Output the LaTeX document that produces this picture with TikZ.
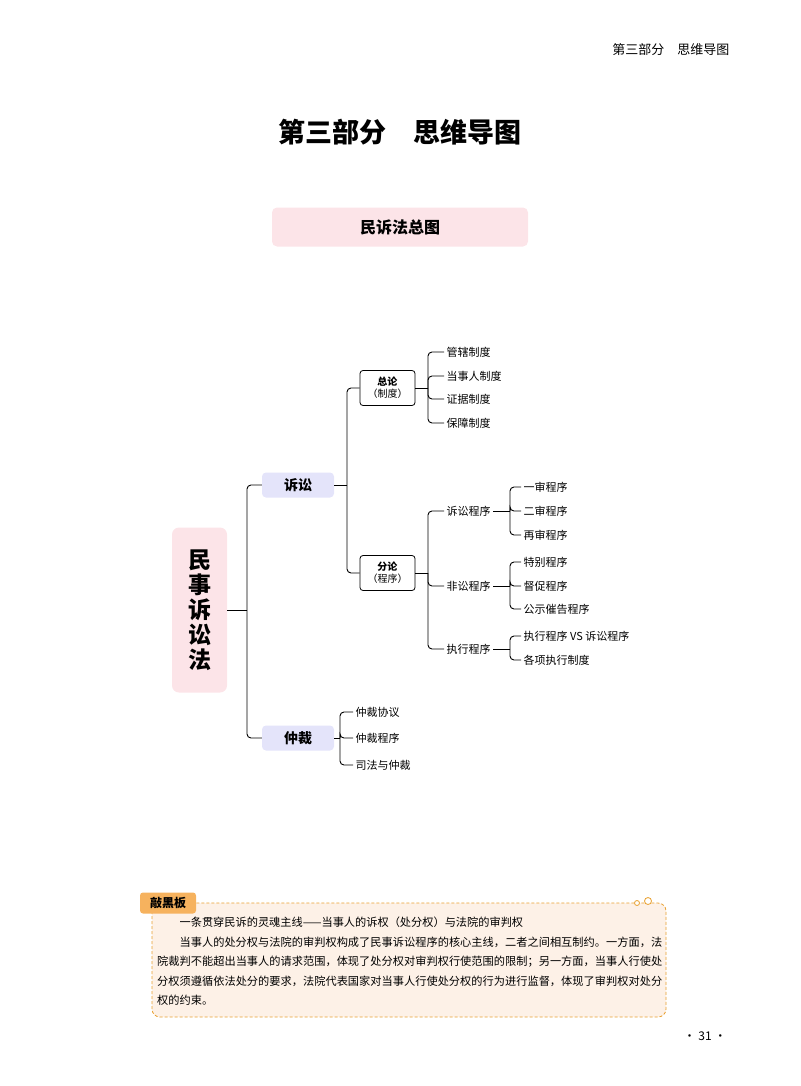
\documentclass[tikz,border=0pt]{standalone}
\usepackage{fontspec}
\setmainfont{Noto Sans CJK SC}
\XeTeXlinebreaklocale "zh"
\XeTeXlinebreakskip=0pt plus 1pt
\usetikzlibrary{positioning}
\definecolor{rootpink}{HTML}{FCE4E8}
\definecolor{lav}{HTML}{E4E4FA}
\definecolor{peach}{HTML}{FDF1E7}
\definecolor{tagorange}{HTML}{F6B25E}
\definecolor{dashorange}{HTML}{E8A030}
\tikzset{
  leaf/.style={anchor=west, inner sep=2.5pt, font=\fontsize{11}{13}\selectfont},
  topic/.style={rounded corners=4pt, fill=lav, minimum width=72, minimum height=25, font=\fontsize{14}{16}\selectfont\bfseries},
  part/.style={rounded corners=3pt, draw, line width=0.8pt, minimum width=55, minimum height=35, align=center, inner sep=1pt, font=\fontsize{10}{12}\selectfont},
  branch/.style={draw, line width=0.9pt, rounded corners=4pt},
  stem/.style={draw, line width=0.9pt},
}
\begin{document}
\begin{tikzpicture}[x=1pt,y=-1pt]
\useasboundingbox (0,0) rectangle (800,1086);

% header and title
\node[anchor=east, font=\fontsize{13}{15}\selectfont] (head) at (733,50) {第三部分\quad 思维导图};
\node[font=\fontsize{27}{30}\selectfont\bfseries] (title) at (400,132) {第三部分\quad 思维导图};
\node[fill=rootpink, rounded corners=5pt, minimum width=256, minimum height=39, font=\fontsize{16}{18}\selectfont\bfseries] (chart) at (400,227) {民诉法总图};

% root and main topics
\node[fill=rootpink, rounded corners=7pt, minimum width=55, minimum height=165, align=center, font=\fontsize{23}{25}\selectfont\bfseries] (root) at (199.5,610) {民\\事\\诉\\讼\\法};
\node[topic] (suit) at (298,485) {诉讼};
\node[topic] (arb) at (298,738) {仲裁};

\node[part] (gen) at (387.5,388) {\textbf{总论}\\（制度）};
\node[part] (spec) at (387.5,573) {\textbf{分论}\\（程序）};

% leaves of 总论
\node[leaf] (g1) at (444,352) {管辖制度};
\node[leaf] (g2) at (444,376) {当事人制度};
\node[leaf] (g3) at (444,399) {证据制度};
\node[leaf] (g4) at (444,423) {保障制度};

% 分论
\node[leaf] (p1) at (444,511) {诉讼程序};
\node[leaf] (p2) at (444,586) {非讼程序};
\node[leaf] (p3) at (444,649) {执行程序};

\node[leaf] (p11) at (521,487) {一审程序};
\node[leaf] (p12) at (521,511) {二审程序};
\node[leaf] (p13) at (521,535) {再审程序};
\node[leaf] (p21) at (521,562) {特别程序};
\node[leaf] (p22) at (521,586) {督促程序};
\node[leaf] (p23) at (521,609) {公示催告程序};
\node[leaf] (p31) at (521,636) {执行程序 VS 诉讼程序};
\node[leaf] (p32) at (521,660) {各项执行制度};

% 仲裁
\node[leaf] (a1) at (353,712) {仲裁协议};
\node[leaf] (a2) at (353,738) {仲裁程序};
\node[leaf] (a3) at (353,765) {司法与仲裁};

% branches
\draw[stem] (root.east) -- (247,610);
\foreach \c in {suit,arb} \draw[branch] (247,610) |- (\c.west);
\draw[stem] (suit.east) -- (347,485);
\foreach \c in {gen,spec} \draw[branch] (347,485) |- (\c.west);
\draw[stem] (gen.east) -- (428,388);
\foreach \c in {g1,g2,g3,g4} \draw[branch] (428,388) |- (\c.west);
\draw[stem] (spec.east) -- (428,573);
\foreach \c in {p1,p2,p3} \draw[branch] (428,573) |- (\c.west);
\draw[stem] (p1.east) -- (510,511);
\foreach \c in {p11,p12,p13} \draw[branch] (510,511) |- (\c.west);
\draw[stem] (p2.east) -- (510,586);
\foreach \c in {p21,p22,p23} \draw[branch] (510,586) |- (\c.west);
\draw[stem] (p3.east) -- (510,649);
\foreach \c in {p31,p32} \draw[branch] (510,649) |- (\c.west);
\draw[stem] (arb.east) -- (340,738);
\foreach \c in {a1,a2,a3} \draw[branch] (340,738) |- (\c.west);

% note box
\draw[dashorange, thick, dash pattern=on 3pt off 2pt, fill=peach, rounded corners=8pt] (152,903) rectangle (666,1017);
\draw[dashorange, thick, fill=white] (637,903) circle (2.5) (648,901) circle (3.5);
\node[fill=tagorange, rounded corners=3pt, minimum width=56, minimum height=21, font=\fontsize{12}{14}\selectfont\bfseries] (tag) at (168,903) {敲黑板};
\node[anchor=north west, text width=505, inner sep=0pt, align=justify, font=\fontsize{11.2}{19.5}\selectfont] (note) at (157,917)
{\parindent=22.4pt\indent 一条贯穿民诉的灵魂主线——当事人的诉权（处分权）与法院的审判权\par
\indent 当事人的处分权与法院的审判权构成了民事诉讼程序的核心主线，二者之间相互制约。一方面，法院裁判不能超出当事人的请求范围，体现了处分权对审判权行使范围的限制；另一方面，当事人行使处分权须遵循依法处分的要求，法院代表国家对当事人行使处分权的行为进行监督，体现了审判权对处分权的约束。};

\node[font=\fontsize{12}{14}\selectfont] (page) at (705,1036) {· 31 ·};
\end{tikzpicture}
\end{document}
